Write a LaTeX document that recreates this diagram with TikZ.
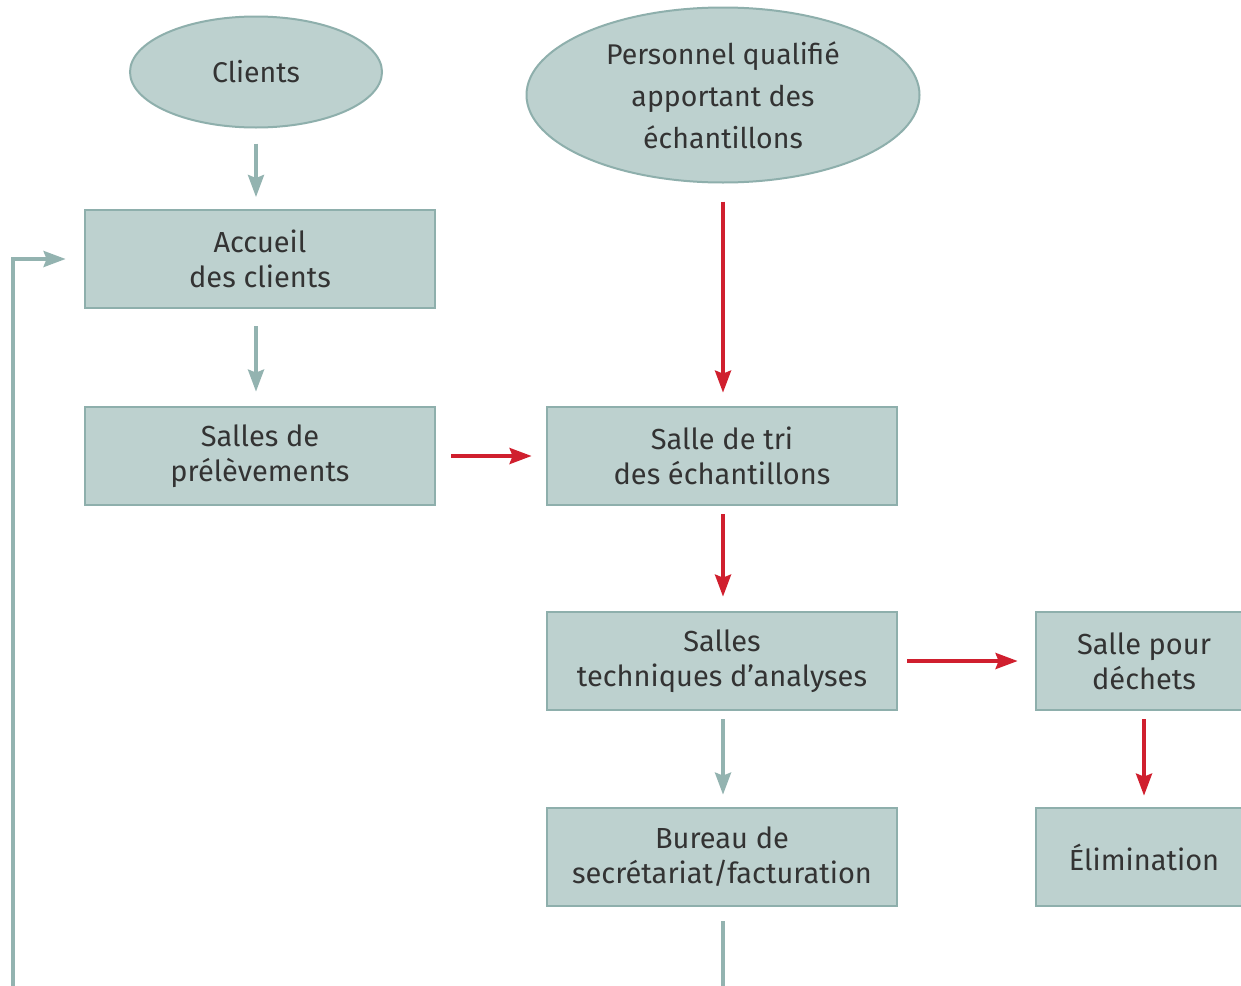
\documentclass[tikz,border=0pt]{standalone}
\usepackage{fontspec}
\setmainfont{Fira Sans}
\usetikzlibrary{shapes.geometric,arrows.meta}
\definecolor{boxfill}{HTML}{BDD1CF}
\definecolor{boxline}{HTML}{8EAFAC}
\definecolor{flowgray}{HTML}{93B3B0}
\definecolor{flowred}{HTML}{D01F2E}
\definecolor{txt}{HTML}{333333}
\tikzset{
  room/.style={draw=boxline, fill=boxfill, line width=2.8pt, minimum width=350pt,
    minimum height=98pt, inner sep=0pt, align=center, text=txt,
    font=\fontsize{29}{35}\selectfont},
  actor/.style={ellipse, draw=boxline, fill=boxfill, line width=2pt, inner sep=0pt,
    align=center, text=txt, font=\fontsize{28.5}{42}\selectfont},
  grayflow/.style={draw=flowgray, line width=3.5pt, -{Stealth[length=22pt,width=16pt,inset=3pt]}},
  redflow/.style={draw=flowred, line width=3.5pt, -{Stealth[length=22pt,width=16pt,inset=3pt]}}
}
\begin{document}
\begin{tikzpicture}[x=1pt,y=-1pt]
\useasboundingbox (0,0) rectangle (1241,985);
\clip (0,0) rectangle (1241,985);
\fill[white] (0,0) rectangle (1241,985);

% people entering the laboratory
\node[actor, minimum width=252pt, minimum height=111pt] (cli) at (256,72) {Clients};
\node[actor, minimum width=393pt, minimum height=175pt] (pers) at (723,95)
  {Personnel qualifié\\apportant des\\échantillons};

% rooms
\node[room] (acc) at (260,259) {Accueil\\des clients};
\node[room] (prel) at (260,456) {Salles de\\prélèvements};
\node[room] (tri) at (722,456) {Salle de tri\\des échantillons};
\node[room] (tech) at (722,661) {Salles\\techniques d’analyses};
\node[room] (bur) at (722,857) {Bureau de\\secrétariat/facturation};
\node[room, minimum width=216pt] (dech) at (1144,661) {Salle pour\\déchets};
\node[room, minimum width=216pt] (elim) at (1144,857) {Élimination};

\coordinate (fb) at (13,1010);

% client flow
\draw[grayflow, shorten <=15pt, shorten >=13pt] (cli.south -| 256,0) -- (256,210);
\draw[grayflow, shorten <=17pt, shorten >=14pt] (acc.south -| 256,0) -- (prel.north -| 256,0);
\draw[redflow, shorten <=15pt, shorten >=14pt] (prel.east) -- (tri.west);

% sample flow
\draw[redflow, shorten <=18pt, shorten >=13pt] (pers.south -| 723,0) -- (tri.north -| 723,0);
\draw[redflow, shorten <=8pt, shorten >=14pt] (tri.south -| 723,0) -- (tech.north -| 723,0);
\draw[redflow, shorten <=9pt, shorten >=17pt] (tech.east) -- (dech.west);
\draw[redflow, shorten <=8pt, shorten >=11pt] (dech.south) -- (elim.north);
\draw[grayflow, shorten <=8pt, shorten >=12pt] (tech.south -| 723,0) -- (bur.north -| 723,0);

% return to reception
\draw[grayflow, shorten <=14pt, shorten >=18pt] (bur.south -| 723,0) -- (fb -| 723,0) -- (fb) |- (acc.west);
\end{tikzpicture}
\end{document}
